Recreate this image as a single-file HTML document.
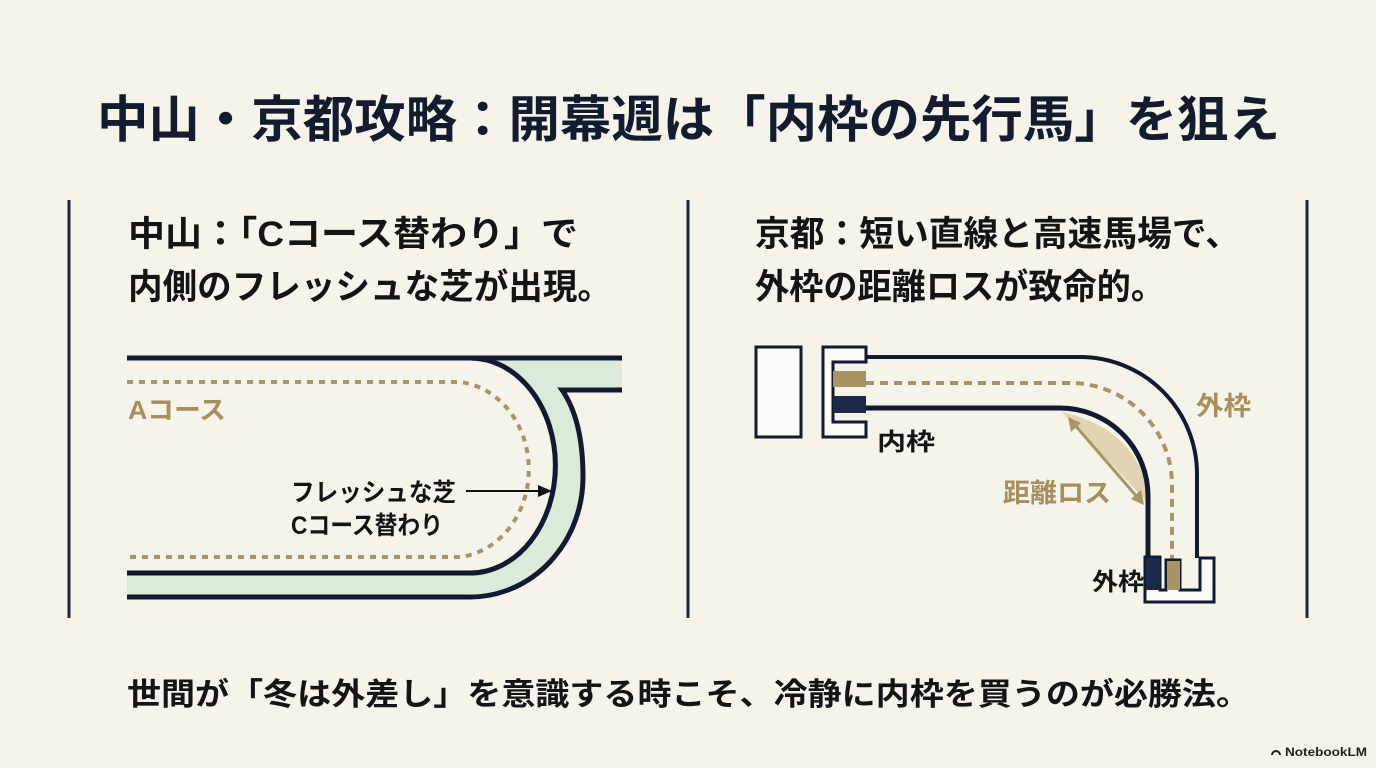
<!DOCTYPE html>
<html><head><meta charset="utf-8"><style>
html,body{margin:0;padding:0;background:#f5f3ea;}
svg{display:block}
text{font-family:"Liberation Sans","Noto Sans CJK JP",sans-serif;font-weight:bold;}
</style></head><body>
<svg width="1376" height="768" viewBox="0 0 1376 768" xmlns="http://www.w3.org/2000/svg">
<rect width="1376" height="768" fill="#f5f3ea"/>
<text x="97" y="137" font-size="50" fill="#131b2e" textLength="1183" lengthAdjust="spacingAndGlyphs">中山・京都攻略：開幕週は「内枠の先行馬」を狙え</text>
<g stroke="#1c2640" stroke-width="3">
<line x1="69" y1="200" x2="69" y2="618"/>
<line x1="688" y1="200" x2="688" y2="618"/>
<line x1="1307" y1="200" x2="1307" y2="618"/>
</g>
<g font-size="35" fill="#141414">
<text x="128" y="246" textLength="450" lengthAdjust="spacingAndGlyphs">中山：「Cコース替わり」で</text>
<text x="128" y="299" textLength="484" lengthAdjust="spacingAndGlyphs">内側のフレッシュな芝が出現。</text>
<text x="755" y="246" textLength="485" lengthAdjust="spacingAndGlyphs">京都：短い直線と高速馬場で、</text>
<text x="755" y="299" textLength="410" lengthAdjust="spacingAndGlyphs">外枠の距離ロスが致命的。</text>
</g>
<!-- Left diagram -->
<path d="M470 358 L622 358 L622 390 L562 390 Q583 420 583 477 A113 120 0 0 1 470 597 L127 597 L127 573 L470 573 A85 107 0 0 0 470 358 Z" fill="#dcebd9"/>
<path d="M127 358 L470 358 A85 107 0 0 1 470 573 L127 573" fill="none" stroke="#111a30" stroke-width="5"/>
<path d="M127 358 L622 358" fill="none" stroke="#111a30" stroke-width="5"/>
<path d="M622 390 L562 390 Q583 420 583 477 A113 120 0 0 1 470 597 L127 597" fill="none" stroke="#111a30" stroke-width="5"/>
<path d="M127 382 L460 382 A77 88 0 0 1 460 557 L127 557" fill="none" stroke="#a99465" stroke-width="4" stroke-dasharray="6 6"/>
<text x="128" y="419" font-size="26" fill="#a68f5c" textLength="98" lengthAdjust="spacingAndGlyphs">Aコース</text>
<g font-size="25" fill="#141414">
<text x="291" y="501" textLength="165" lengthAdjust="spacingAndGlyphs">フレッシュな芝</text>
<text x="291" y="534" textLength="152" lengthAdjust="spacingAndGlyphs">Cコース替わり</text>
</g>
<line x1="466" y1="491" x2="540" y2="491" stroke="#111" stroke-width="2"/>
<path d="M552 491 L538 485 L538 497 Z" fill="#111"/>
<!-- Right diagram -->
<rect x="756" y="347" width="45" height="90" fill="#fbfaf4" stroke="#111a30" stroke-width="3"/>
<path d="M823 347 L866 347 L866 362 L833 362 L833 422 L866 422 L866 437 L823 437 Z" fill="#fbfaf4" stroke="#111a30" stroke-width="3"/>
<rect x="833" y="371" width="33" height="16" fill="#a99465"/>
<rect x="833" y="396" width="33" height="17" fill="#1c2a4a"/>
<path d="M1062 412 Q1142 430 1150 505 Z" fill="#e2d4b3"/>
<path d="M866 357 L1080 357 A117 117 0 0 1 1197 474 L1197 558" fill="none" stroke="#111a30" stroke-width="4"/>
<path d="M866 408 L1060 408 A88 88 0 0 1 1148 496 L1148 558" fill="none" stroke="#111a30" stroke-width="5"/>
<path d="M866 383 L1070 383 A102 102 0 0 1 1172 485 L1172 560" fill="none" stroke="#a99465" stroke-width="4" stroke-dasharray="8 6"/>
<line x1="1074" y1="424" x2="1138" y2="498" stroke="#a99465" stroke-width="3"/>
<path d="M1068 417 L1071 432 L1081 423 Z" fill="#a99465"/>
<path d="M1144 505 L1131 499 L1141 490 Z" fill="#a99465"/>
<path d="M1145 557 L1160 557 L1160 590 L1166 590 L1166 560 L1180 560 L1180 590 L1200 590 L1200 558 L1214 558 L1214 602 L1145 602 Z" fill="#fbfaf4" stroke="#111a30" stroke-width="3"/>
<rect x="1146" y="558" width="14" height="32" fill="#1c2a4a"/>
<rect x="1167" y="561" width="13" height="29" fill="#a99465"/>
<g font-size="24" fill="#141414">
<text x="877" y="450" textLength="58" lengthAdjust="spacingAndGlyphs">内枠</text>
<text x="1092" y="590" textLength="52" lengthAdjust="spacingAndGlyphs">外枠</text>
</g>
<text x="1196" y="415" font-size="26" fill="#a68f5c" textLength="55" lengthAdjust="spacingAndGlyphs">外枠</text>
<text x="1003" y="502" font-size="26" fill="#a68f5c" textLength="108" lengthAdjust="spacingAndGlyphs">距離ロス</text>
<text x="127" y="705" font-size="31" fill="#141414" textLength="1123" lengthAdjust="spacingAndGlyphs">世間が「冬は外差し」を意識する時こそ、冷静に内枠を買うのが必勝法。</text>
<g fill="#222">
<path d="M1271 755 a5 5 0 0 1 10 0 h-2 a3 3 0 0 0 -6 0 z"/>
<text x="1285" y="756" font-size="12" textLength="82" lengthAdjust="spacingAndGlyphs">NotebookLM</text>
</g>
</svg>
</body></html>
